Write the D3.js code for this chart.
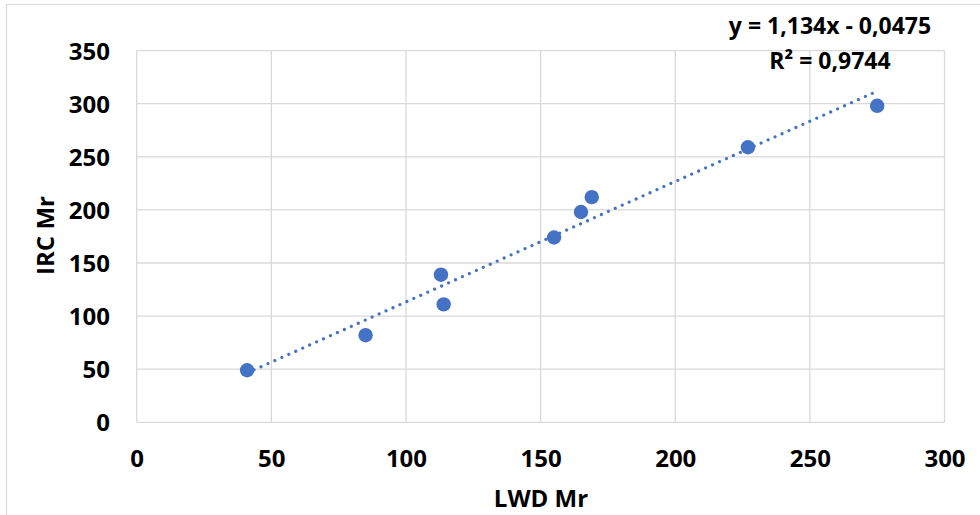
<!DOCTYPE html>
<html>
<head>
<meta charset="utf-8">
<script src="https://cdn.jsdelivr.net/npm/d3@7/dist/d3.min.js"></script>
<style>
  html, body { margin: 0; padding: 0; background: #fff; }
  svg { display: block; }
  text { font-family: "Open Sans", "Liberation Sans", sans-serif; font-weight: bold; fill: #000; }
</style>
</head>
<body>
<svg id="chart" width="980" height="515"></svg>
<script>
// Data
const lwdValues = [41, 85, 113, 114, 155, 165, 169, 227, 275];
const ircValues = [49, 82, 139, 111, 174, 198, 212, 259, 298];
const xTicks = [0, 50, 100, 150, 200, 250, 300];
const yTicks = [0, 50, 100, 150, 200, 250, 300, 350];
const trendSlope = 1.134;
const trendIntercept = -0.0475;
const equationLabel = "y = 1,134x - 0,0475";
const r2Label = "R² = 0,9744";
const xTitle = "LWD Mr";
const yTitle = "IRC Mr";

const points = lwdValues.map((x, i) => ({ x, y: ircValues[i] }));

const svg = d3.select("#chart");
const W = 980, H = 515;
const plot = { left: 136.7, right: 944.5, top: 50.6, bottom: 422.3 };
const blue = "#4472C4";
const gridColor = "#d9d9d9";

// outer chart border
svg.append("rect")
  .attr("x", 6.5).attr("y", 4.5)
  .attr("width", W + 20).attr("height", H + 20)
  .attr("fill", "none").attr("stroke", gridColor).attr("stroke-width", 1.2);

const x = d3.scaleLinear().domain([0, 300]).range([plot.left, plot.right]);
const y = d3.scaleLinear().domain([0, 350]).range([plot.bottom, plot.top]);

// gridlines
const grid = svg.append("g");
grid.selectAll("line.v").data(xTicks).enter().append("line")
  .attr("x1", d => x(d)).attr("x2", d => x(d))
  .attr("y1", plot.top).attr("y2", plot.bottom)
  .attr("stroke", gridColor).attr("stroke-width", 1.3);
grid.selectAll("line.h").data(yTicks).enter().append("line")
  .attr("x1", plot.left).attr("x2", plot.right)
  .attr("y1", d => y(d)).attr("y2", d => y(d))
  .attr("stroke", gridColor).attr("stroke-width", 1.3);

// axes (labels only)
const xAxis = d3.axisBottom(x).tickValues(xTicks).tickSize(0).tickPadding(0).tickFormat(d3.format("d"));
const gx = svg.append("g").attr("transform", `translate(0, ${plot.bottom})`).call(xAxis);
gx.select(".domain").remove();
gx.selectAll("text").attr("dy", null).attr("y", 45)
  .style("font-size", "24px").style("font-family", "'Open Sans', sans-serif").style("font-weight", "bold").attr("fill", "#000");

const yAxis = d3.axisLeft(y).tickValues(yTicks).tickSize(0).tickPadding(0).tickFormat(d3.format("d"));
const gy = svg.append("g").attr("transform", `translate(110, 0)`).call(yAxis);
gy.select(".domain").remove();
gy.selectAll("text").attr("dy", "0.36em").attr("x", 0)
  .style("font-size", "24px").style("font-family", "'Open Sans', sans-serif").style("font-weight", "bold").attr("fill", "#000");

// trendline (dotted)
const xMin = d3.min(lwdValues), xMax = d3.max(lwdValues);
const trend = [xMin, xMax].map(v => ({ x: v, y: trendSlope * v + trendIntercept }));
svg.append("path")
  .datum(trend)
  .attr("d", d3.line().x(d => x(d.x)).y(d => y(d.y)))
  .attr("fill", "none").attr("stroke", blue)
  .attr("stroke-width", 3.2).attr("stroke-linecap", "round")
  .attr("stroke-dasharray", "0.01 7.6");

// points
svg.append("g").selectAll("circle").data(points).enter().append("circle")
  .attr("cx", d => x(d.x)).attr("cy", d => y(d.y))
  .attr("r", 7.2).attr("fill", blue);

// equation label
svg.append("text").attr("x", 830).attr("y", 34).attr("text-anchor", "middle")
  .style("font-size", "23px").text(equationLabel);
svg.append("text").attr("x", 830).attr("y", 68.5).attr("text-anchor", "middle")
  .style("font-size", "23px").text(r2Label);

// axis titles
svg.append("text").attr("x", 541).attr("y", 506.5).attr("text-anchor", "middle")
  .style("font-size", "24px").text(xTitle);
svg.append("text")
  .attr("transform", "translate(53.5, 235.5) rotate(-90)")
  .attr("text-anchor", "middle")
  .style("font-size", "24px").text(yTitle);
</script>
</body>
</html>
